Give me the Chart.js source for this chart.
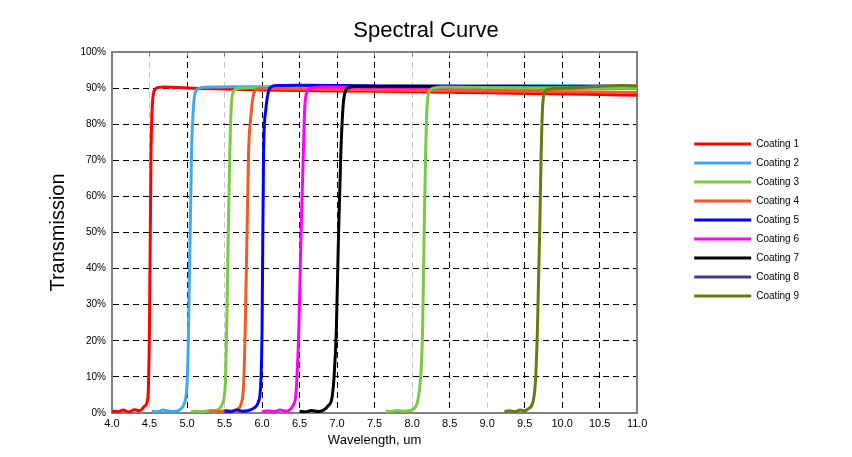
<!DOCTYPE html>
<html lang="en">
<head>
  <meta charset="UTF-8">
  <title>Spectral Curve</title>
  <script src="https://cdn.jsdelivr.net/npm/chart.js"></script>
  <style>
    body { margin: 0; background: #fff; }
    canvas { display: block; }
  </style>
</head>
<body>
<canvas id="spectrum" width="852" height="457"></canvas>
<script>
// wavelength (um) / transmission (%)
const wl1 = [4.0, 4.08, 4.15, 4.22, 4.3, 4.37, 4.44, 4.48, 4.5, 4.52, 4.54, 4.57, 4.62, 4.7, 5.0, 6.0, 7.0, 8.0, 9.0, 10.0, 10.5, 11.0];
const tr1 = [0.5, 0.4, 0.8, 0.3, 0.9, 0.6, 2.0, 4.5, 25, 72, 86, 89.5, 90.2, 90.3, 90.0, 89.5, 89.2, 89.0, 88.7, 88.4, 88.2, 88.0];
const wl2 = [4.53, 4.6, 4.68, 4.76, 4.84, 4.91, 4.96, 5.0, 5.02, 5.06, 5.09, 5.13, 5.2, 5.4, 6.0, 7.0, 8.0, 9.0, 10.0, 11.0];
const tr2 = [0.5, 0.3, 0.8, 0.5, 0.4, 1.0, 2.5, 8, 23, 72, 86, 89.5, 90.2, 90.3, 90.4, 90.4, 90.5, 90.6, 90.7, 90.6];
const wl3 = [5.05, 5.12, 5.2, 5.28, 5.36, 5.42, 5.47, 5.51, 5.53, 5.55, 5.57, 5.59, 5.62, 5.68, 5.8, 6.5, 7.5, 8.5, 9.5, 10.5, 11.0];
const tr3 = [0.4, 0.5, 0.4, 0.6, 0.5, 1.0, 2.5, 8, 25, 50, 72, 85, 89, 89.9, 90.1, 90.0, 89.9, 89.8, 89.8, 89.9, 89.9];
const wl4 = [5.29, 5.36, 5.44, 5.52, 5.6, 5.67, 5.72, 5.755, 5.775, 5.8, 5.82, 5.85, 5.89, 5.95, 6.1, 7.0, 8.0, 9.0, 10.0, 11.0];
const tr4 = [0.5, 0.6, 0.4, 0.7, 0.5, 1.0, 2.5, 8, 23, 50, 72, 82, 88.5, 89.8, 89.9, 89.6, 89.4, 89.2, 89.0, 88.8];
const wl5 = [5.5, 5.58, 5.66, 5.74, 5.82, 5.9, 5.95, 5.985, 6.0, 6.02, 6.05, 6.08, 6.12, 6.2, 6.5, 7.5, 8.5, 9.5, 10.5, 11.0];
const tr5 = [0.5, 0.4, 0.8, 0.5, 0.7, 1.5, 3, 9, 23, 72, 84, 88.5, 90.3, 90.7, 90.8, 90.6, 90.5, 90.5, 90.3, 90.3];
const wl6 = [6.0, 6.08, 6.16, 6.24, 6.32, 6.41, 6.45, 6.47, 6.49, 6.52, 6.55, 6.57, 6.6, 6.67, 6.8, 7.5, 8.5, 9.5, 10.5, 11.0];
const tr6 = [0.4, 0.6, 0.4, 0.8, 0.5, 2, 5, 12, 23, 50, 72, 85, 88.8, 90.1, 90.3, 90.2, 90.1, 90.0, 90.1, 90.0];
const wl7 = [6.5, 6.58, 6.66, 6.74, 6.82, 6.88, 6.93, 6.96, 6.99, 7.02, 7.05, 7.08, 7.11, 7.17, 7.3, 8.0, 9.0, 10.0, 11.0];
const tr7 = [0.5, 0.3, 0.7, 0.4, 0.8, 2, 4, 10, 23, 50, 72, 85, 89, 90.3, 90.5, 90.5, 90.4, 90.3, 90.2];
const wl8 = [7.65, 7.72, 7.8, 7.88, 7.96, 8.01, 8.07, 8.11, 8.14, 8.16, 8.18, 8.2, 8.23, 8.29, 8.4, 9.0, 10.0, 11.0];
const tr8 = [0.5, 0.4, 0.7, 0.5, 0.6, 1.0, 3, 9, 23, 50, 72, 85, 89, 90.0, 90.3, 90.2, 90.1, 90.0];
const wl9 = [9.23, 9.3, 9.37, 9.44, 9.5, 9.55, 9.61, 9.645, 9.67, 9.7, 9.72, 9.74, 9.77, 9.82, 9.95, 10.2, 10.5, 10.8, 11.0];
const tr9 = [0.4, 0.6, 0.4, 0.8, 0.6, 1.2, 3, 9, 23, 50, 72, 85, 88.8, 89.7, 89.9, 90.1, 90.5, 90.7, 90.6];

const coatingNames = ['Coating 1', 'Coating 2', 'Coating 3', 'Coating 4', 'Coating 5', 'Coating 6', 'Coating 7', 'Coating 8', 'Coating 9'];
const lineColors = ['#ff0000', '#3fa9f5', '#7ac943', '#f15a24', '#0000ff', '#ff00ff', '#000000', '#7ac943', '#6b7a10'];
// coating 8 is drawn green in the plot but purple in the key
const legendColors = ['#ff0000', '#3fa9f5', '#7ac943', '#f15a24', '#0000ff', '#ff00ff', '#000000', '#4b3a8c', '#6b7a10'];

const xTicks = [4.0, 4.5, 5.0, 5.5, 6.0, 6.5, 7.0, 7.5, 8.0, 8.5, 9.0, 9.5, 10.0, 10.5, 11.0];
const yTicks = [0, 10, 20, 30, 40, 50, 60, 70, 80, 90, 100];
const lightGridX = [4.5, 5.5, 8.0, 9.0];

const series = [[wl1, tr1], [wl2, tr2], [wl3, tr3], [wl4, tr4], [wl5, tr5], [wl6, tr6], [wl7, tr7], [wl8, tr8], [wl9, tr9]];

const FONT = "'Liberation Sans', Arial, sans-serif";
Chart.defaults.color = '#000';
Chart.defaults.font.family = FONT;

const datasets = series.map(([xs, ys], i) => ({
  label: coatingNames[i],
  data: xs.map((x, k) => ({ x: x, y: ys[k] })),
  borderColor: lineColors[i],
  backgroundColor: legendColors[i],
  borderWidth: 3,
  pointRadius: 0,
  fill: false,
  order: series.length - i,   // later coatings paint on top
  cubicInterpolationMode: 'monotone'
}));

const useTicks = arr => scale => { scale.ticks = arr.map(v => ({ value: v })); };

// stretch the legend box so the key sits away from the plot
const legendWidth = {
  id: 'legendWidth',
  beforeLayout(chart) {
    const lg = chart.legend;
    if (lg && !lg._wide) {
      const fit = lg.fit;
      lg.fit = function () { fit.call(this); this.width += 43; };
      lg._wide = true;
    }
  }
};

new Chart(document.getElementById('spectrum').getContext('2d'), {
  type: 'line',
  data: { datasets },
  plugins: [legendWidth],
  options: {
    responsive: false,
    animation: false,
    layout: { padding: { top: 0, right: 0, bottom: 17, left: 0 } },
    plugins: {
      title: {
        display: true,
        text: 'Spectral Curve',
        font: { size: 22, weight: 'normal' },
        color: '#000',
        padding: { top: 18, bottom: 0 }
      },
      legend: {
        position: 'right',
        align: 'center',
        labels: {
          boxWidth: 57,
          boxHeight: 3,
          padding: 9,
          font: { size: 10 },
          generateLabels: chart => chart.data.datasets.map((ds, i) => ({
            text: ds.label,
            fillStyle: legendColors[i],
            strokeStyle: legendColors[i],
            lineWidth: 0,
            hidden: false,
            fontColor: '#000',
            datasetIndex: i
          }))
        }
      },
      tooltip: { enabled: false }
    },
    scales: {
      x: {
        type: 'linear',
        position: 'bottom',
        min: 4, max: 11,
        afterBuildTicks: useTicks(xTicks),
        afterFit: s => { s.height = 27; },
        ticks: { font: { size: 11 }, padding: 4, callback: v => v.toFixed(1) },
        grid: {
          drawTicks: false,
          lineWidth: 1,
          color: c => {
            const v = c.tick ? c.tick.value : null;
            if (v === 4 || v === 11) return 'rgba(0,0,0,0)';
            return lightGridX.includes(v) ? '#c8c8c8' : '#000';
          }
        },
        border: { color: '#808080', width: 2, dash: [6, 4] },
        title: { display: true, text: 'Wavelength, um', font: { size: 13 }, padding: { top: 0, bottom: -7.8 } }
      },
      x2: {
        type: 'linear',
        position: 'top',
        min: 4, max: 11,
        afterBuildTicks: useTicks(xTicks),
        afterFit: s => { s.height = 7.6; },
        ticks: { display: false },
        grid: { drawOnChartArea: false, drawTicks: true, tickLength: -4, tickColor: '#808080', tickWidth: 1 },
        border: { color: '#808080', width: 2 }
      },
      y: {
        min: 0, max: 100,
        afterBuildTicks: useTicks(yTicks),
        afterFit: s => { s.width = 112; },
        ticks: { font: { size: 10 }, padding: 6, callback: v => v + '%' },
        grid: {
          drawTicks: false,
          lineWidth: 1,
          color: c => (c.tick && (c.tick.value === 0 || c.tick.value === 100)) ? 'rgba(0,0,0,0)' : '#000'
        },
        border: { color: '#808080', width: 2, dash: [6, 4] },
        title: { display: true, text: 'Transmission', font: { size: 20 }, padding: { top: 46, bottom: 0 } }
      },
      y2: {
        position: 'right',
        min: 0, max: 100,
        afterFit: s => { s.width = 48; },
        ticks: { display: false },
        grid: { drawOnChartArea: false, drawTicks: false },
        border: { color: '#808080', width: 2 }
      }
    }
  }
});
</script>
</body>
</html>
